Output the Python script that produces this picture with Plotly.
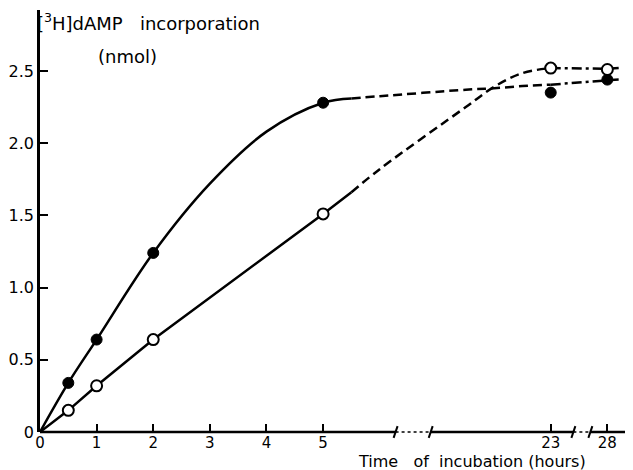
import numpy as np
import plotly.graph_objects as go

# ---- measured points (hours, nmol) ----
time_h = [0.5, 1, 2, 5, 23, 28]
closed_vals = [0.34, 0.64, 1.24, 2.28, 2.35, 2.44]
open_vals = [0.15, 0.32, 0.64, 1.51, 2.52, 2.51]

# ---- hand-drawn curves ----
closed_solid_t = [0, 0.5, 1, 2, 3, 4, 5, 5.5]
closed_solid_v = [0, 0.34, 0.64, 1.24, 1.72, 2.08, 2.28, 2.31]
closed_dash_t = [5.5, 6, 21.5, 22, 22.5, 23]
closed_dash_v = [2.31, 2.325, 2.37, 2.38, 2.395, 2.405]
closed_dd_t = [23, 28]
closed_dd_v = [2.405, 2.435]
closed_tail_t = [28, 28.2]
closed_tail_v = [2.435, 2.44]

open_solid_t = [0, 0.5, 1, 2, 5, 5.5]
open_solid_v = [0, 0.15, 0.32, 0.64, 1.51, 1.66]
open_dash_t = [5.5, 6, 21.5, 22, 22.5, 23]
open_dash_v = [1.66, 1.82, 2.25, 2.39, 2.485, 2.52]
open_dd_t = [23, 28]
open_dd_v = [2.52, 2.515]
open_tail_t = [28, 28.2]
open_tail_v = [2.515, 2.52]

# ---- axes ----
x_tick_hours = [0, 1, 2, 3, 4, 5, 23, 28]
x_tick_labels = ["0", "1", "2", "3", "4", "5", "23", "28"]
y_tick_vals = [0, 0.5, 1.0, 1.5, 2.0, 2.5]
y_tick_labels = ["0", "0.5", "1.0", "1.5", "2.0", "2.5"]

# broken time axis: hours -> position along drawn axis
axis_hours = [0, 6.28, 20.88, 23.4, 27.7, 28.4]
axis_pos = [0, 6.28, 6.90, 9.42, 9.72, 10.42]
break_pairs = [(6.28, 6.90), (9.42, 9.72)]


def ax(t):
    return np.interp(np.asarray(t, dtype=float), axis_hours, axis_pos)


FONT = "DejaVu Sans"
BLACK = "#000000"
fig = go.Figure()


def curve(t, v, dash, shape="linear", smoothing=1.0):
    fig.add_trace(go.Scatter(
        x=ax(t), y=v, mode="lines", showlegend=False, hoverinfo="skip",
        line=dict(color=BLACK, width=2.5, dash=dash, shape=shape, smoothing=smoothing)))


curve(closed_solid_t, closed_solid_v, "solid", "spline", 1.0)
curve(closed_dash_t, closed_dash_v, "9px,5px", "spline")
curve(closed_dd_t, closed_dd_v, "10px,4px,3px,4px")
curve(closed_tail_t, closed_tail_v, "solid")
curve(open_solid_t, open_solid_v, "solid")
curve(open_dash_t, open_dash_v, "9px,5px", "spline")
curve(open_dd_t, open_dd_v, "10px,4px,3px,4px")
curve(open_tail_t, open_tail_v, "solid")

fig.add_trace(go.Scatter(
    x=ax(time_h), y=closed_vals, mode="markers", showlegend=False,
    marker=dict(symbol="circle", size=11, color=BLACK, line=dict(color=BLACK, width=1))))
fig.add_trace(go.Scatter(
    x=ax(time_h), y=open_vals, mode="markers", showlegend=False,
    marker=dict(symbol="circle", size=11, color="white", line=dict(color=BLACK, width=2))))

# x axis line with breaks
shapes = []
seg_edges = [0] + [p for pair in break_pairs for p in pair] + [axis_pos[-1]]
for i in range(0, len(seg_edges), 2):
    shapes.append(dict(type="line", xref="x", yref="paper", x0=seg_edges[i], x1=seg_edges[i + 1],
                       y0=0, y1=0, line=dict(color=BLACK, width=2.5)))
for a, b in break_pairs:
    shapes.append(dict(type="line", xref="x", yref="paper", x0=a, x1=b, y0=0, y1=0,
                       line=dict(color=BLACK, width=1.5, dash="dot")))
    for p in (a, b):
        shapes.append(dict(type="line", xref="x", yref="paper", x0=p - 0.035, x1=p + 0.035,
                           y0=-0.014, y1=0.014, line=dict(color=BLACK, width=2)))

fig.update_layout(
    width=625, height=462,
    margin=dict(l=32, r=3, t=2, b=38),
    paper_bgcolor="white", plot_bgcolor="white",
    font=dict(family=FONT, size=16, color=BLACK),
    shapes=shapes,
    xaxis=dict(range=[0, axis_pos[-1]], tickmode="array", tickvals=ax(x_tick_hours),
               ticktext=x_tick_labels, ticks="inside", ticklen=8, tickwidth=2, tickcolor=BLACK,
               tickfont=dict(family=FONT, size=15, color=BLACK),
               showline=False, zeroline=False, showgrid=False, fixedrange=True),
    yaxis=dict(range=[0, 2.922], tickmode="array", tickvals=y_tick_vals, ticktext=y_tick_labels,
               ticks="inside", ticklen=8, tickwidth=2, tickcolor=BLACK,
               tickfont=dict(family=FONT, size=16, color=BLACK),
               showline=True, linewidth=2.5, linecolor=BLACK,
               zeroline=False, showgrid=False, fixedrange=True),
    annotations=[
        dict(text="[<sup>3</sup>H]dAMP\u00a0\u00a0 incorporation", xref="paper", yref="paper",
             x=-0.008, y=0.972, xanchor="left", yanchor="middle", showarrow=False,
             font=dict(family=FONT, size=18, color=BLACK)),
        dict(text="(nmol)", xref="paper", yref="paper", x=0.149, y=0.889,
             xanchor="center", yanchor="middle", showarrow=False,
             font=dict(family=FONT, size=18, color=BLACK)),
        dict(text="Time\u00a0\u00a0 of\u00a0 incubation (hours)", xref="paper", yref="paper",
             x=0.732, y=-0.0699, xanchor="center", yanchor="middle", showarrow=False,
             borderpad=0, font=dict(family=FONT, size=16, color=BLACK)),
    ],
)

fig.write_html("out.html")
